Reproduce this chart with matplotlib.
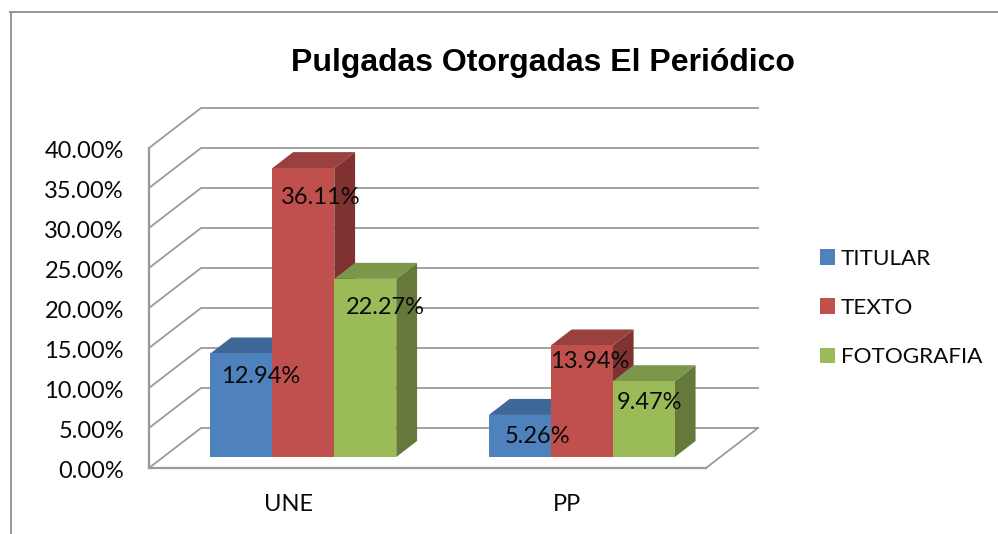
import matplotlib
matplotlib.use("Agg")
import matplotlib.pyplot as plt
from matplotlib.lines import Line2D
from matplotlib.patches import Patch
from matplotlib.transforms import ScaledTranslation

categories = ["UNE", "PP"]
series_names = ["TITULAR", "TEXTO", "FOTOGRAFIA"]
titular = [12.94, 5.26]
texto = [36.11, 13.94]
fotografia = [22.27, 9.47]
y_ticks = [0, 5, 10, 15, 20, 25, 30, 35, 40]

W, H = 998, 534
plt.rcParams["font.family"] = ["Lato", "DejaVu Sans"]
fig = plt.figure(figsize=(W / 100, H / 100), dpi=100)
ax = fig.add_axes([149 / W, (H - 468) / H, 557 / W, 320 / H])
ax.set_xlim(0, 2)
ax.set_ylim(0, 40)

GREY = "#9a9a9a"
LW = 1.3
TXT = "#0a0a0a"
FS = 17

# oblique depth of the chart box, in data units
DX = 52 / 278.5
DY = 40 / 8.0


def proj(x, y, d):
    return x + d * DX, y + d * DY


# gridlines on walls
for t in y_ticks:
    p0 = proj(0, t, 0)
    p1 = proj(0, t, 1)
    p2 = proj(2, t, 1)
    ax.plot([p0[0], p1[0], p2[0]], [p0[1], p1[1], p2[1]], color=GREY, lw=LW,
            clip_on=False, zorder=1, solid_joinstyle="miter")
p0, p1 = proj(2, 0, 0), proj(2, 0, 1)
ax.plot([p0[0], p1[0]], [p0[1], p1[1]], color=GREY, lw=LW, clip_on=False, zorder=1)

# bars
series = [titular, texto, fotografia]
fronts = ["#4F81BD", "#C0504D", "#9BBB59"]
tops = ["#3F6797", "#9A403E", "#7C964A"]
sides = ["#335378", "#7F3230", "#66793A"]
BW = 0.2225
START = 0.169
D0, D1 = 0.275, 0.675
label_off = [[(19, -23), (18, -22)], [(17, -29), (8, -16)], [(20, -29), (6, -21)]]

z = 2
for s, vals in enumerate(series):
    for c, v in enumerate(vals):
        x0 = c + START + s * BW
        x1 = x0 + BW
        a = proj(x0, 0, D0); b = proj(x1, 0, D0)
        e = proj(x1, v, D0); f = proj(x0, v, D0)
        g = proj(x1, 0, D1); h = proj(x1, v, D1); i = proj(x0, v, D1)
        ax.fill(*zip(b, g, h, e), color=sides[s], lw=0, clip_on=False, zorder=z)
        ax.fill(*zip(f, e, h, i), color=tops[s], lw=0, clip_on=False, zorder=z)
        ax.fill(*zip(a, b, e, f), color=fronts[s], lw=0, clip_on=False, zorder=z)
for s, vals in enumerate(series):
    for c, v in enumerate(vals):
        x0 = c + START + s * BW
        px = proj(x0 + BW / 2, v, D0)
        ox, oy = label_off[s][c]
        ax.annotate(f"{v:.2f}%", px, xytext=(ox * 0.72, oy * 0.72),
                    textcoords="offset points", ha="center", va="center",
                    fontsize=FS, color=TXT, zorder=10, annotation_clip=False)

# axes
for name in ["top", "right"]:
    ax.spines[name].set_visible(False)
for name in ["left", "bottom"]:
    ax.spines[name].set_color(GREY)
    ax.spines[name].set_linewidth(LW + 0.3)
ax.patch.set_alpha(0)
ax.set_yticks(y_ticks)
ax.set_yticklabels([f"{t:.2f}%" for t in y_ticks], fontsize=FS, color=TXT)
ax.set_xticks([0.5, 1.5])
ax.set_xticklabels(categories, fontsize=FS, color=TXT)
ax.tick_params(axis="y", length=0, pad=18)
ax.tick_params(axis="x", length=0, pad=19)
for lab in ax.get_yticklabels():
    lab.set_transform(lab.get_transform() + ScaledTranslation(0, -2 / 100, fig.dpi_scale_trans))

# title
fig.text(543 / W, 1 - 63 / H, "Pulgadas Otorgadas El Periódico", ha="center", va="center",
         fontsize=23, fontweight="bold", family="Liberation Sans", color="#000000")

# legend
handles = [Patch(facecolor=fc, edgecolor="none", label=n) for fc, n in zip(fronts, series_names)]
fig.legend(handles=handles, loc="upper left", bbox_to_anchor=(820 / W, 1 - 249 / H),
           frameon=False, fontsize=16.2, labelcolor=TXT, borderpad=0, borderaxespad=0,
           handlelength=0.67, handleheight=0.67, handletextpad=0.25, labelspacing=1.29)

# outer frame
FR = "#8c8c8c"
fig.add_artist(Line2D([10.5 / W, 10.5 / W], [0, 1 - 12 / H], color=FR, lw=1.3))
fig.add_artist(Line2D([10 / W, 1], [1 - 12 / H, 1 - 12 / H], color=FR, lw=1.3))

fig.savefig("out.png", dpi=100)
